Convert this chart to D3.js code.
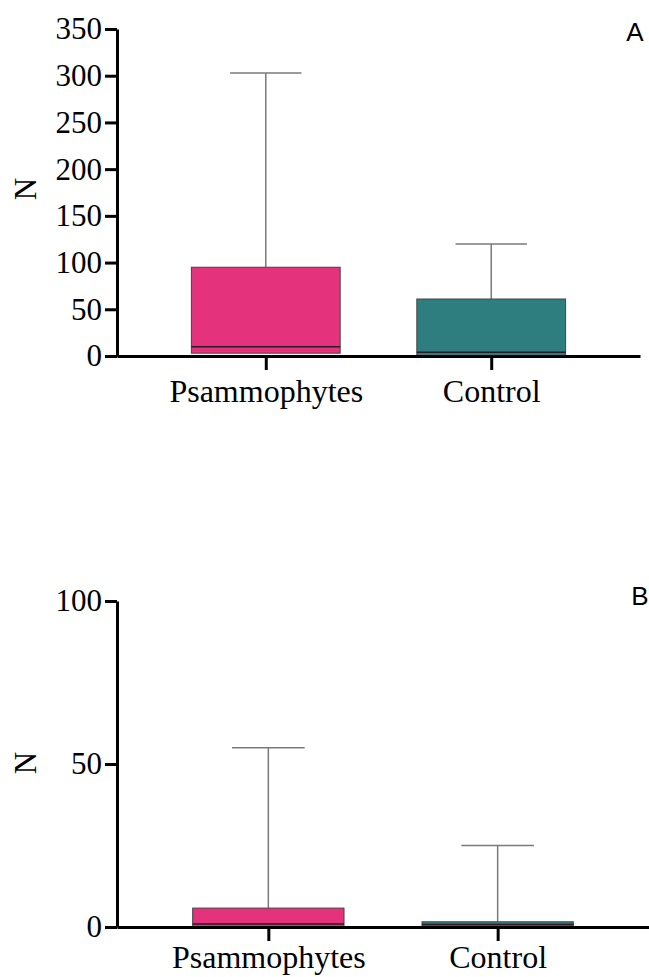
<!DOCTYPE html>
<html>
<head>
<meta charset="utf-8">
<script src="https://cdn.jsdelivr.net/npm/d3@7"></script>
<style>
  html, body { margin: 0; padding: 0; background: #fff; }
  svg { display: block; }
  .tick text { font-family: "Liberation Serif", "Times New Roman", serif; fill: #000; }
</style>
</head>
<body>
<div id="chart"></div>
<script>
// Categories and box-plot values
const categories = ["Psammophytes", "Control"];

const aMin = [0, 0];
const aQ1 = [3, 0];
const aMedian = [10, 4];
const aQ3 = [95, 61];
const aMax = [303, 120];
const aTicks = [0, 50, 100, 150, 200, 250, 300, 350];

const bMin = [0, 0];
const bQ1 = [0, 0];
const bMedian = [0.9, 0.8];
const bQ3 = [5.8, 1.6];
const bMax = [55, 25];
const bTicks = [0, 50, 100];

const fills = ["#e4337c", "#2f7e7f"];

const width = 649, height = 977;

const svg = d3.select("#chart")
    .append("svg")
    .attr("width", width)
    .attr("height", height);

function drawPanel(opts) {
    const g = svg.append("g");

    const x = d3.scalePoint()
        .domain(categories)
        .range([117, opts.right])
        .padding(0.66);

    const y = d3.scaleLinear()
        .domain([0, opts.yMax])
        .range([opts.bottom, opts.top]);

    const boxW = x.step() * 0.66;
    const capW = boxW * 0.48;

    const rows = categories.map((c, i) => ({
        cat: c, min: opts.min[i], q1: opts.q1[i], med: opts.median[i],
        q3: opts.q3[i], max: opts.max[i], fill: fills[i]
    }));

    // whiskers first so the box sits on top
    g.selectAll(".whisker")
        .data(rows)
        .enter()
        .append("line")
        .attr("x1", d => x(d.cat))
        .attr("x2", d => x(d.cat))
        .attr("y1", d => y(d.q3))
        .attr("y2", d => y(d.max))
        .attr("stroke", "#7a7a7a")
        .attr("stroke-width", 1.5);

    g.selectAll(".cap")
        .data(rows)
        .enter()
        .append("line")
        .attr("x1", d => x(d.cat) - capW / 2)
        .attr("x2", d => x(d.cat) + capW / 2)
        .attr("y1", d => y(d.max))
        .attr("y2", d => y(d.max))
        .attr("stroke", "#7a7a7a")
        .attr("stroke-width", 1.5);

    // boxes
    g.selectAll(".box")
        .data(rows)
        .enter()
        .append("rect")
        .attr("x", d => x(d.cat) - boxW / 2)
        .attr("width", boxW)
        .attr("y", d => y(d.q3))
        .attr("height", d => y(d.q1) - y(d.q3))
        .attr("fill", d => d.fill)
        .attr("stroke", "#444")
        .attr("stroke-width", 1);

    // medians
    g.selectAll(".median")
        .data(rows)
        .enter()
        .append("line")
        .attr("x1", d => x(d.cat) - boxW / 2)
        .attr("x2", d => x(d.cat) + boxW / 2)
        .attr("y1", d => y(d.med))
        .attr("y2", d => y(d.med))
        .attr("stroke", "#2a1a22")
        .attr("stroke-width", 1.5);

    // y axis
    const yAxis = g.append("g")
        .attr("transform", "translate(117,0)")
        .call(d3.axisLeft(y).tickValues(opts.ticks).tickSize(12).tickSizeOuter(0).tickPadding(3));
    yAxis.select(".domain").attr("stroke", "#000").attr("stroke-width", 3);
    yAxis.selectAll(".tick line").attr("stroke", "#000").attr("stroke-width", 3);
    yAxis.selectAll(".tick text").attr("font-size", 31);

    // x axis
    const xAxis = g.append("g")
        .attr("transform", `translate(0,${opts.bottom})`)
        .call(d3.axisBottom(x).tickSize(14).tickSizeOuter(0).tickPadding(opts.labelPad));
    xAxis.select(".domain").attr("stroke", "#000").attr("stroke-width", 3);
    xAxis.selectAll(".tick line").attr("stroke", "#000").attr("stroke-width", 3);
    xAxis.selectAll(".tick text").attr("font-size", 32);

    // y title
    g.append("text")
        .attr("transform", `translate(${opts.titleX},${opts.titleY}) rotate(-90)`)
        .attr("text-anchor", "middle")
        .attr("dominant-baseline", "central")
        .attr("font-family", "'Liberation Serif', 'Times New Roman', serif")
        .attr("font-size", 31)
        .text("N");

    // panel letter
    g.append("text")
        .attr("x", opts.letterX)
        .attr("y", opts.letterY)
        .attr("text-anchor", "middle")
        .attr("font-family", "'Liberation Sans', Arial, sans-serif")
        .attr("font-size", 26)
        .text(opts.letter);
}

drawPanel({
    min: aMin, q1: aQ1, median: aMedian, q3: aQ3, max: aMax, ticks: aTicks,
    yMax: 350, top: 29, bottom: 356, right: 640, labelPad: 9,
    titleX: 25, titleY: 189, letter: "A", letterX: 635, letterY: 41
});

drawPanel({
    min: bMin, q1: bQ1, median: bMedian, q3: bQ3, max: bMax, ticks: bTicks,
    yMax: 100, top: 601, bottom: 927, right: 649, labelPad: 4,
    titleX: 25, titleY: 763, letter: "B", letterX: 640, letterY: 605
});
</script>
</body>
</html>
